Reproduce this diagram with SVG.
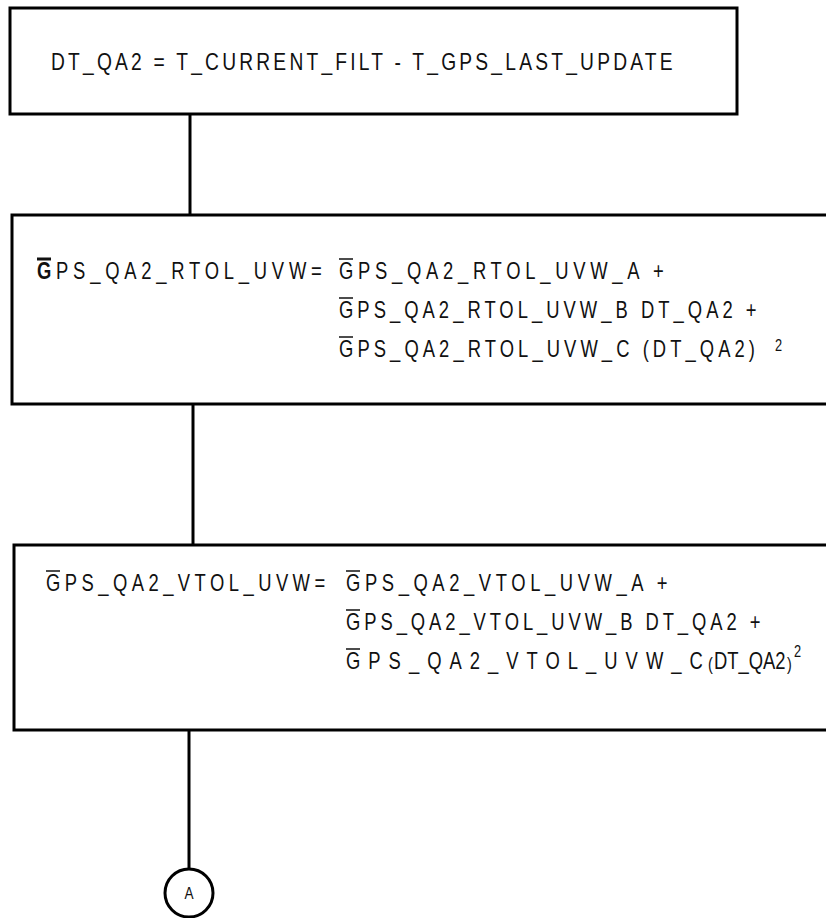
<svg xmlns="http://www.w3.org/2000/svg" width="826" height="918" viewBox="0 0 826 918">
<style>
.box{fill:#fff;stroke:#000;stroke-width:3}
.conn{stroke:#000;stroke-width:3;fill:none}
.t{font-family:"Liberation Sans",Arial,sans-serif;font-size:23px;fill:#111}
.t1{font-family:"Liberation Sans",Arial,sans-serif;font-size:24px;fill:#111}
.ov{stroke:#111;stroke-width:1.5}
.ovb{stroke:#111;stroke-width:3}
.sup{font-family:"Liberation Sans",Arial,sans-serif;font-size:16px;fill:#111}
.par{font-family:"Liberation Sans",Arial,sans-serif;font-size:18px;fill:#111}
</style>
<rect width="826" height="918" fill="#fff"/>
<g id="connectors">
<line class="conn" x1="190" y1="114" x2="190" y2="215"/>
<line class="conn" x1="193" y1="404" x2="193" y2="545"/>
<line class="conn" x1="189" y1="730" x2="189" y2="869"/>
</g>
<g id="n1">
<rect class="box" x="10" y="8" width="727" height="106"/>
<text class="t1" transform="translate(51,70) scale(0.8,1)" textLength="777" lengthAdjust="spacing">DT_QA2 = T_CURRENT_FILT - T_GPS_LAST_UPDATE</text>
</g>
<g id="n2">
<rect class="box" x="12" y="215" width="830" height="189"/>
<text class="t" transform="translate(37,279) scale(0.8,1)" textLength="356" lengthAdjust="spacing"><tspan font-weight="bold">G</tspan>PS_QA2_RTOL_UVW=</text>
<line class="ovb" x1="37" y1="259" x2="51" y2="259"/>
<text class="t" transform="translate(339,279) scale(0.8,1)" textLength="406" lengthAdjust="spacing">GPS_QA2_RTOL_UVW_A +</text>
<line class="ov" x1="339" y1="259" x2="353" y2="259"/>
<text class="t" transform="translate(339,318) scale(0.8,1)" textLength="522" lengthAdjust="spacing">GPS_QA2_RTOL_UVW_B DT_QA2 +</text>
<line class="ov" x1="339" y1="298" x2="353" y2="298"/>
<text class="t" transform="translate(339,357) scale(0.8,1)" textLength="520" lengthAdjust="spacing">GPS_QA2_RTOL_UVW_C (DT_QA2)</text>
<line class="ov" x1="339" y1="337" x2="353" y2="337"/>
<text class="sup" transform="translate(775,351) scale(0.8,1)">2</text>
</g>
<g id="n3">
<rect class="box" x="14" y="545" width="830" height="185"/>
<text class="t" transform="translate(46,591) scale(0.8,1)" textLength="349" lengthAdjust="spacing">GPS_QA2_VTOL_UVW=</text>
<line class="ov" x1="46" y1="571" x2="60" y2="571"/>
<text class="t" transform="translate(346,591) scale(0.8,1)" textLength="402" lengthAdjust="spacing">GPS_QA2_VTOL_UVW_A +</text>
<line class="ov" x1="346" y1="571" x2="360" y2="571"/>
<text class="t" transform="translate(346,630) scale(0.8,1)" textLength="518" lengthAdjust="spacing">GPS_QA2_VTOL_UVW_B DT_QA2 +</text>
<line class="ov" x1="346" y1="610" x2="360" y2="610"/>
<text class="t" transform="translate(346,669) scale(0.8,1)" textLength="446" lengthAdjust="spacing">GPS_QA2_VTOL_UVW_C</text>
<line class="ov" x1="346" y1="649" x2="360" y2="649"/>
<text class="par" transform="translate(708,670) scale(0.8,1)">(</text>
<text class="t" transform="translate(714,669) scale(0.8,1)">DT_QA2</text>
<text class="par" transform="translate(787,670) scale(0.8,1)">)</text>
<text class="sup" transform="translate(794,657) scale(0.8,1)">2</text>
</g>
<g id="nA">
<circle cx="189" cy="893" r="24" fill="#fff" stroke="#000" stroke-width="3"/>
<text transform="translate(189,899) scale(0.8,1)" text-anchor="middle" font-family="Liberation Sans, Arial, sans-serif" font-size="17" fill="#111">A</text>
</g>
</svg>
